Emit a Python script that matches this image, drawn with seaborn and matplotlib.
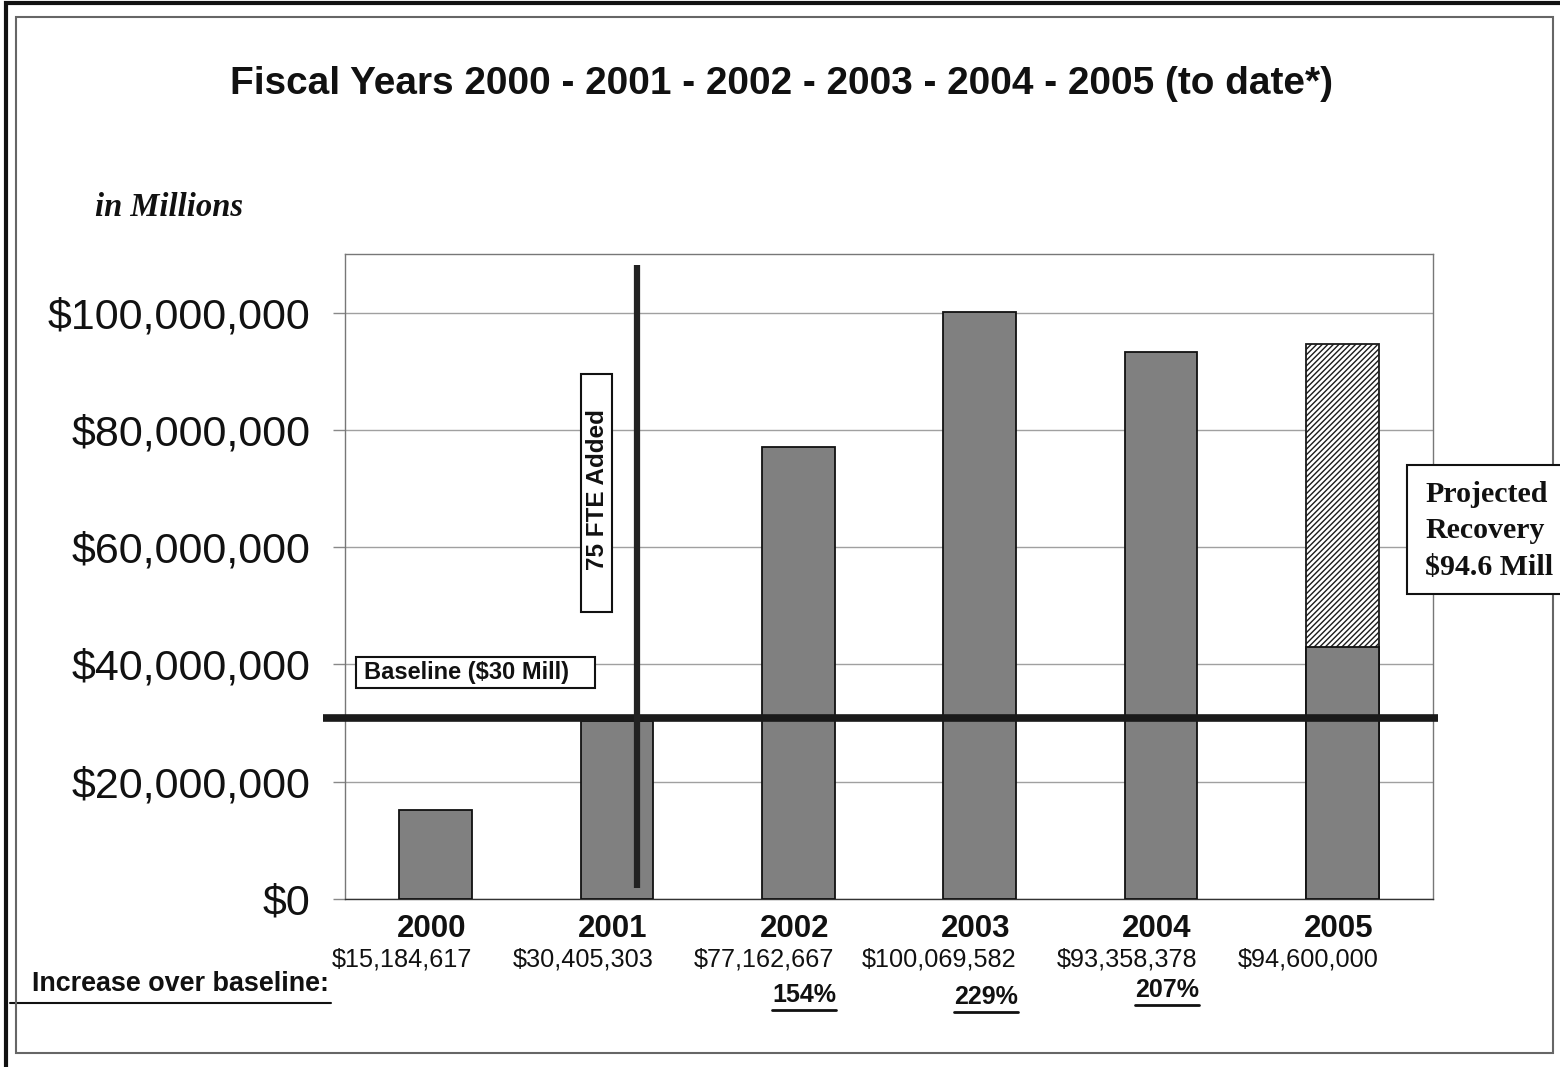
import matplotlib
matplotlib.use("Agg")
import matplotlib.pyplot as plt
import seaborn as sns
import pandas as pd
from matplotlib.patches import Rectangle
from matplotlib.lines import Line2D
from matplotlib.ticker import FuncFormatter
from matplotlib import font_manager

# ---------------- data ----------------
years = ["2000", "2001", "2002", "2003", "2004", "2005"]
recoveries = [15184617, 30405303, 77162667, 100069582, 93358378, 94600000]
value_labels = ["$15,184,617", "$30,405,303", "$77,162,667",
                "$100,069,582", "$93,358,378", "$94,600,000"]
to_date_year = ["2005"]
to_date_value = [43000000]          # 2005 recovered to date (solid part)
pct_years = ["2002", "2003", "2004"]
pct_labels = ["154%", "229%", "207%"]
baseline_value = 30900000
fte_position = 1.11
y_ticks = [0, 20000000, 40000000, 60000000, 80000000, 100000000]

title = "Fiscal Years 2000 - 2001 - 2002 - 2003 - 2004 - 2005 (to date*)"

# ---------------- style ----------------
sns.set_theme(style="white")
plt.rcParams["font.family"] = ["Liberation Sans", "DejaVu Sans"]
avail = {f.name for f in font_manager.fontManager.ttflist}
if "Liberation Sans Narrow" in avail:
    NARROW = ["Liberation Sans Narrow", "Liberation Sans"]
    val_size = 21.5
else:
    NARROW = ["Liberation Sans", "DejaVu Sans"]
    val_size = 18.2
SERIF = ["Liberation Serif", "DejaVu Serif"]

BAR = "#808080"
W, H = 1560, 1067
fig = plt.figure(figsize=(W / 100, H / 100), dpi=100)
fig.patch.set_facecolor("white")


def fx(px):
    return px / W


def fy(py):
    return 1 - py / H


ax = fig.add_axes([fx(345), fy(899), fx(1433) - fx(345), fy(254) - fy(899)])

df = pd.DataFrame({"year": years, "recovery": recoveries})
sns.barplot(data=df, x="year", y="recovery", order=years, color=BAR,
            saturation=1, width=0.4, edgecolor="#111111", linewidth=1.3,
            ax=ax, zorder=3)
# projected year: hatched
proj = ax.patches[-1]
proj.set_facecolor("white")
proj.set_hatch("//////")
proj.set_edgecolor("#1a1a1a")

df2 = pd.DataFrame({"year": to_date_year, "recovery": to_date_value})
sns.barplot(data=df2, x="year", y="recovery", order=years, color=BAR,
            saturation=1, width=0.4, edgecolor="#111111", linewidth=1.3,
            ax=ax, zorder=3)

ax.set_xlim(-0.5, 5.5)
ax.set_ylim(0, 110000000)
ax.set_yticks(y_ticks)
ax.yaxis.set_major_formatter(FuncFormatter(lambda v, p: "${:,.0f}".format(v)))
ax.set_xticks([])
ax.set_xlabel("")
ax.set_ylabel("")
ax.tick_params(axis="y", left=True, length=8.6, width=1, color="#888888",
               labelsize=31, pad=16, labelcolor="#111111")
ax.grid(axis="y", color="#a0a0a0", lw=1)
ax.set_axisbelow(True)
for s in ax.spines.values():
    s.set_color("#777777")
    s.set_linewidth(1)
ax.spines["bottom"].set_color("#333333")

# baseline & FTE lines
ax.plot([-0.621, 5.529], [baseline_value, baseline_value], color="#1a1a1a",
        lw=5.5, clip_on=False, solid_capstyle="butt", zorder=6)
ax.plot([fte_position, fte_position], [1900000, 108200000], color="#222222",
        lw=4.5, clip_on=False, solid_capstyle="butt", zorder=6)

# year + value labels under bars
trans = ax.get_xaxis_transform()
for i, (yr, lab) in enumerate(zip(years, value_labels)):
    ax.text(i + 0.2 - 0.03, -(929 - 899) / 645, yr, transform=trans,
            ha="right", va="center", fontsize=22.5, fontweight="bold",
            color="#111111", clip_on=False)
    ax.text(i + 0.2, -(960 - 899) / 645, lab, transform=trans,
            ha="right", va="center", fontsize=val_size, family=NARROW,
            color="#111111", clip_on=False)

pct_texts = []
pct_y = {"2002": 995, "2003": 997, "2004": 990}
for yr, lab in zip(pct_years, pct_labels):
    i = years.index(yr)
    t = ax.text(i + 0.2 + 0.01, -(pct_y[yr] - 899) / 645, lab, transform=trans,
                ha="right", va="center", fontsize=18, fontweight="bold",
                family=NARROW, color="#111111", clip_on=False)
    pct_texts.append(t)

# figure texts
fig.text(fx(781), fy(84), title, ha="center", va="center", fontsize=27.9,
         fontweight="bold", color="#111111")
fig.text(fx(95), fy(207), "in Millions", ha="left", va="center", fontsize=23.5,
         fontweight="bold", fontstyle="italic", family=SERIF, color="#111111")
fig.text(fx(32), fy(984), "Increase over baseline:", ha="left", va="center",
         fontsize=19.4, fontweight="bold", family=NARROW, color="#111111")
fig.add_artist(Line2D([fx(10), fx(331)], [fy(1003), fy(1003)], color="#111111",
                      lw=1.5, transform=fig.transFigure))

# frames (drawn below the annotation boxes)
fig.add_artist(Rectangle((fx(16), fy(1053)), fx(1553) - fx(16),
                         fy(17) - fy(1053), transform=fig.transFigure,
                         fill=False, edgecolor="#666666", lw=1.5, zorder=2))
fig.add_artist(Rectangle((fx(6), fy(1090)), fx(1600) - fx(6),
                         fy(3) - fy(1090), transform=fig.transFigure,
                         fill=False, edgecolor="#111111", lw=3, zorder=2))

# annotation boxes
def box(x0, y0, x1, y1, lw=1.5):
    r = Rectangle((fx(x0), fy(y1)), fx(x1) - fx(x0), fy(y0) - fy(y1),
                  transform=fig.transFigure, facecolor="white",
                  edgecolor="#111111", lw=lw, zorder=5)
    fig.add_artist(r)

box(356, 657, 595, 688)
fig.text(fx(364), fy(673), "Baseline ($30 Mill)", ha="left", va="center",
         fontsize=17, fontweight="bold", color="#111111", zorder=6)

box(581, 374, 612, 612)
fig.text(fx(597), fy(490), "75 FTE Added", ha="center", va="center",
         rotation=90, fontsize=17.5, fontweight="bold", color="#111111",
         zorder=6)

box(1407, 465, 1620, 594)
fig.text(fx(1425), fy(531), "Projected\nRecovery\n$94.6 Mill", ha="left",
         va="center", fontsize=21.5, fontweight="bold", family=SERIF,
         linespacing=1.45, color="#111111", zorder=6)

# underline percentages
fig.canvas.draw()
r = fig.canvas.get_renderer()
for t in pct_texts:
    bb = t.get_window_extent(renderer=r)
    fig.add_artist(Line2D([bb.x0 / W, bb.x1 / W],
                          [(bb.y0 - 3) / H, (bb.y0 - 3) / H],
                          color="#111111", lw=2, transform=fig.transFigure))

fig.savefig("out.png", dpi=100, facecolor="white")
